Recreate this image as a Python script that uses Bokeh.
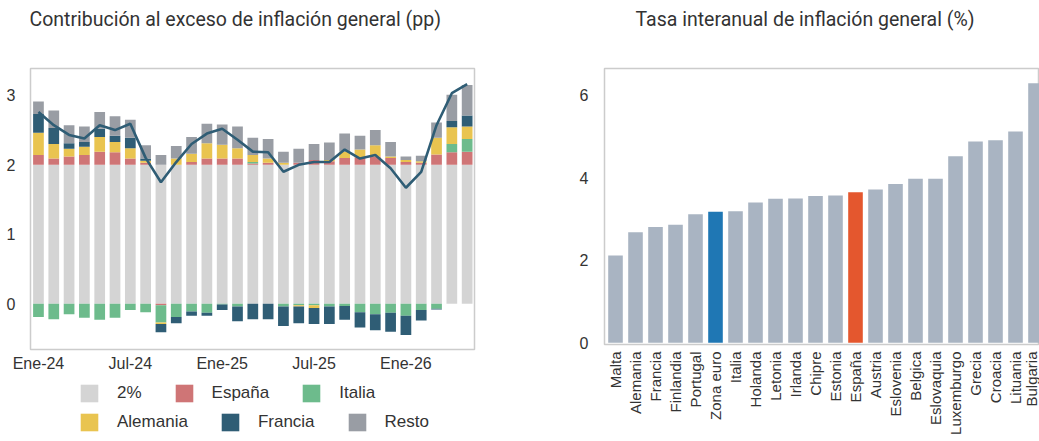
import math
from bokeh.plotting import figure
from bokeh.models import ColumnDataSource, Range1d, FixedTicker, Legend, LegendItem, Title
from bokeh.layouts import row, column
from bokeh.embed import file_html
from bokeh.resources import INLINE

# ---------------- data: left chart ----------------
months = ["Ene-24", "Feb-24", "Mar-24", "Abr-24", "May-24", "Jun-24", "Jul-24", "Ago-24",
          "Sep-24", "Oct-24", "Nov-24", "Dic-24", "Ene-25", "Feb-25", "Mar-25", "Abr-25",
          "May-25", "Jun-25", "Jul-25", "Ago-25", "Sep-25", "Oct-25", "Nov-25", "Dic-25",
          "Ene-26", "Feb-26", "Mar-26", "Abr-26", "May-26"]
base_2pct = [2.0, 2.0, 2.0, 2.0, 2.0, 2.0, 2.0, 2.0, 2.0, 2.0, 2.0, 2.0, 2.0, 2.0, 2.0,
             2.0, 2.0, 2.0, 2.0, 2.0, 2.0, 2.0, 2.0, 2.0, 2.0, 2.0, 2.0, 2.0, 2.0]
espana = [0.14, 0.09, 0.12, 0.14, 0.19, 0.18, 0.09, 0.03, -0.02, 0.00, 0.04, 0.09, 0.09, 0.09,
          0.02, 0.03, 0.00, 0.03, 0.07, 0.05, 0.10, 0.11, 0.12, 0.10, 0.04, 0.03, 0.15, 0.18, 0.19]
italia = [-0.19, -0.22, -0.15, -0.20, -0.23, -0.20, -0.09, -0.12, -0.25, -0.19, -0.11, -0.13, -0.01,
          -0.04, 0.02, 0.00, -0.04, -0.02, -0.02, -0.04, -0.03, -0.12, -0.15, -0.13, -0.17, -0.09,
          -0.07, 0.12, 0.18]
alemania = [0.32, 0.21, 0.11, 0.12, 0.21, 0.15, 0.15, 0.03, -0.02, 0.09, 0.12, 0.22, 0.20, 0.15,
            0.10, 0.06, 0.03, -0.02, -0.04, 0.02, 0.09, 0.11, 0.16, 0.02, 0.03, 0.02, 0.24, 0.24, 0.18]
francia = [0.27, 0.23, 0.08, 0.07, 0.12, 0.09, 0.15, 0.03, -0.12, -0.09, -0.06, -0.04, -0.08, -0.21,
           -0.22, -0.22, -0.28, -0.24, -0.23, -0.25, -0.20, -0.22, -0.23, -0.27, -0.28, -0.15, -0.01,
           0.09, 0.16]
resto = [0.18, 0.25, 0.26, 0.22, 0.24, 0.28, 0.26, 0.19, 0.14, 0.18, 0.24, 0.28, 0.29, 0.31, 0.25,
         0.28, 0.16, 0.20, 0.23, 0.25, 0.26, 0.20, 0.22, 0.21, 0.05, 0.08, 0.22, 0.38, 0.44]
total = [2.76, 2.57, 2.43, 2.38, 2.57, 2.50, 2.59, 2.10, 1.75, 2.04, 2.30, 2.45, 2.52, 2.36, 2.19,
         2.18, 1.90, 2.00, 2.04, 2.04, 2.22, 2.09, 2.14, 1.95, 1.67, 1.90, 2.57, 3.03, 3.16]
tick_every = 6
legend_labels = ["2%", "España", "Italia", "Alemania", "Francia", "Resto"]

# ---------------- data: right chart ----------------
countries = ["Malta", "Alemania", "Francia", "Finlandia", "Portugal", "Zona euro", "Italia",
             "Holanda", "Letonia", "Irlanda", "Chipre", "Estonia", "España", "Austria",
             "Eslovenia", "Belgica", "Eslovaquia", "Luxemburgo", "Grecia", "Croacia",
             "Lituania", "Bulgaria"]
rates = [2.12, 2.68, 2.81, 2.86, 3.12, 3.18, 3.19, 3.40, 3.49, 3.50, 3.56, 3.57, 3.65, 3.72,
         3.85, 3.98, 3.98, 4.52, 4.88, 4.91, 5.12, 6.29]

# ---------------- styles ----------------
C_BASE, C_ESP, C_ITA, C_ALE, C_FRA, C_RES = "#d4d4d4", "#cf7576", "#6dbb8c", "#e9c450", "#2f5d75", "#999da4"
C_GREY, C_EA, C_ES = "#a9b4c2", "#1f77b4", "#e4572e"
TXT = "#333333"
LBL_FONT = "Liberation Sans"


def style(p, title_text, title_offset):
    p.xgrid.visible = False
    p.ygrid.visible = False
    p.outline_line_color = "#cccccc"
    p.outline_line_width = 1.5
    for ax in (p.xaxis, p.yaxis):
        ax.axis_line_color = None
        ax.major_tick_line_color = None
        ax.minor_tick_line_color = None
        ax.major_tick_out = 0
        ax.major_tick_in = 0
        ax.minor_tick_out = 0
        ax.minor_tick_in = 0
        ax.major_label_text_font = LBL_FONT
        ax.major_label_text_color = TXT
        ax.major_label_text_font_size = "16px"
    p.background_fill_color = "white"
    p.border_fill_color = "white"
    # real title on top, blank spacer title between it and the frame
    p.title.text = title_text
    p.title.text_font = "Roboto"
    p.title.text_font_size = "19.5px"
    p.title.text_font_style = "normal"
    p.title.text_color = TXT
    p.title.align = "left"
    p.title.vertical_align = "top"
    p.title.standoff = 15
    p.title.offset = title_offset
    spacer = Title(text=" ", text_font_size="1px", standoff=25)
    p.add_layout(spacer, "above")


# ---------------- left chart ----------------
n = len(months)
xs = list(range(n))
series = {"esp": espana, "ita": italia, "ale": alemania, "fra": francia, "res": resto}
data = {"x": xs, "base": base_2pct, "total": total}
for k, v in series.items():
    data[k + "_p"] = [max(a, 0.0) for a in v]
    data[k + "_n"] = [min(a, 0.0) for a in v]
src = ColumnDataSource(data)
pos_fields = ["base", "esp_p", "ita_p", "ale_p", "fra_p", "res_p"]
neg_fields = ["esp_n", "ita_n", "ale_n", "fra_n", "res_n"]
colors_p = [C_BASE, C_ESP, C_ITA, C_ALE, C_FRA, C_RES]

p1 = figure(width=488, height=375, output_backend="svg", toolbar_location=None,
            x_range=Range1d(-0.52, n - 0.52), y_range=Range1d(-0.657, 3.386),
            min_border_left=30, min_border_right=14, min_border_top=0, min_border_bottom=26)
style(p1, "Contribución al exceso de inflación general (pp)", -1)

p1.vbar_stack(pos_fields, x="x", width=0.7, color=colors_p, source=src, line_color=None)
p1.vbar_stack(neg_fields, x="x", width=0.7, color=colors_p[1:], source=src, line_color=None)
p1.line("x", "total", source=src, line_color=C_FRA, line_width=2.6)

p1.xaxis.ticker = FixedTicker(ticks=xs[::tick_every])
p1.xaxis.major_label_overrides = {i: months[i] for i in xs[::tick_every]}
p1.yaxis.ticker = FixedTicker(ticks=[0, 1, 2, 3])
p1.xaxis.major_label_standoff = 5
p1.yaxis.major_label_standoff = 15

# ---------------- legend strip under the left chart ----------------
pl = figure(width=488, height=62, output_backend="svg", toolbar_location=None,
            x_axis_type=None, y_axis_type=None,
            x_range=Range1d(-1000, -999), y_range=Range1d(0, 1),
            min_border_left=0, min_border_right=0, min_border_top=0, min_border_bottom=0)
pl.grid.visible = False
pl.outline_line_color = None
pl.border_fill_color = "white"
leg_r = pl.vbar_stack(pos_fields, x="x", width=0.7, color=colors_p, source=src, line_color=None)
for r in leg_r:
    r.visible = False
for rows_idx, loc in (([0, 1, 2], (48, 33)), ([3, 4, 5], (48, 4))):
    lg = Legend(items=[LegendItem(label=legend_labels[i], renderers=[leg_r[i]]) for i in rows_idx],
                orientation="horizontal", location=loc, glyph_width=22, glyph_height=22,
                label_standoff=17, spacing=31, padding=3, margin=0,
                label_text_font=LBL_FONT, label_text_font_size="17px",
                label_text_color=TXT, border_line_color=None, background_fill_alpha=0,
                inactive_fill_alpha=0)
    pl.add_layout(lg, "center")

# ---------------- right chart ----------------
cx = list(range(len(countries)))
bar_colors = [C_EA if c == "Zona euro" else (C_ES if c == "España" else C_GREY) for c in countries]
src2 = ColumnDataSource({"x": cx, "rate": rates, "color": bar_colors})

p2 = figure(width=551, height=437, output_backend="svg", toolbar_location=None,
            x_range=Range1d(-0.55, 21.2), y_range=Range1d(-0.04, 6.65),
            min_border_left=116, min_border_right=0, min_border_top=0, min_border_bottom=92)
style(p2, "Tasa interanual de inflación general (%)", 31)

p2.vbar(x="x", top="rate", width=0.73, bottom=0, color="color", source=src2, line_color=None)
p2.xaxis.ticker = FixedTicker(ticks=cx)
p2.xaxis.major_label_overrides = {i: c for i, c in zip(cx, countries)}
p2.xaxis.major_label_orientation = math.pi / 2
p2.yaxis.ticker = FixedTicker(ticks=[0, 2, 4, 6])
p2.xaxis.major_label_text_font_size = "15px"
p2.xaxis.major_label_standoff = 7
p2.yaxis.major_label_standoff = 16

layout = row(column(p1, pl), p2)
open("out.html", "w").write(file_html(layout, INLINE))
